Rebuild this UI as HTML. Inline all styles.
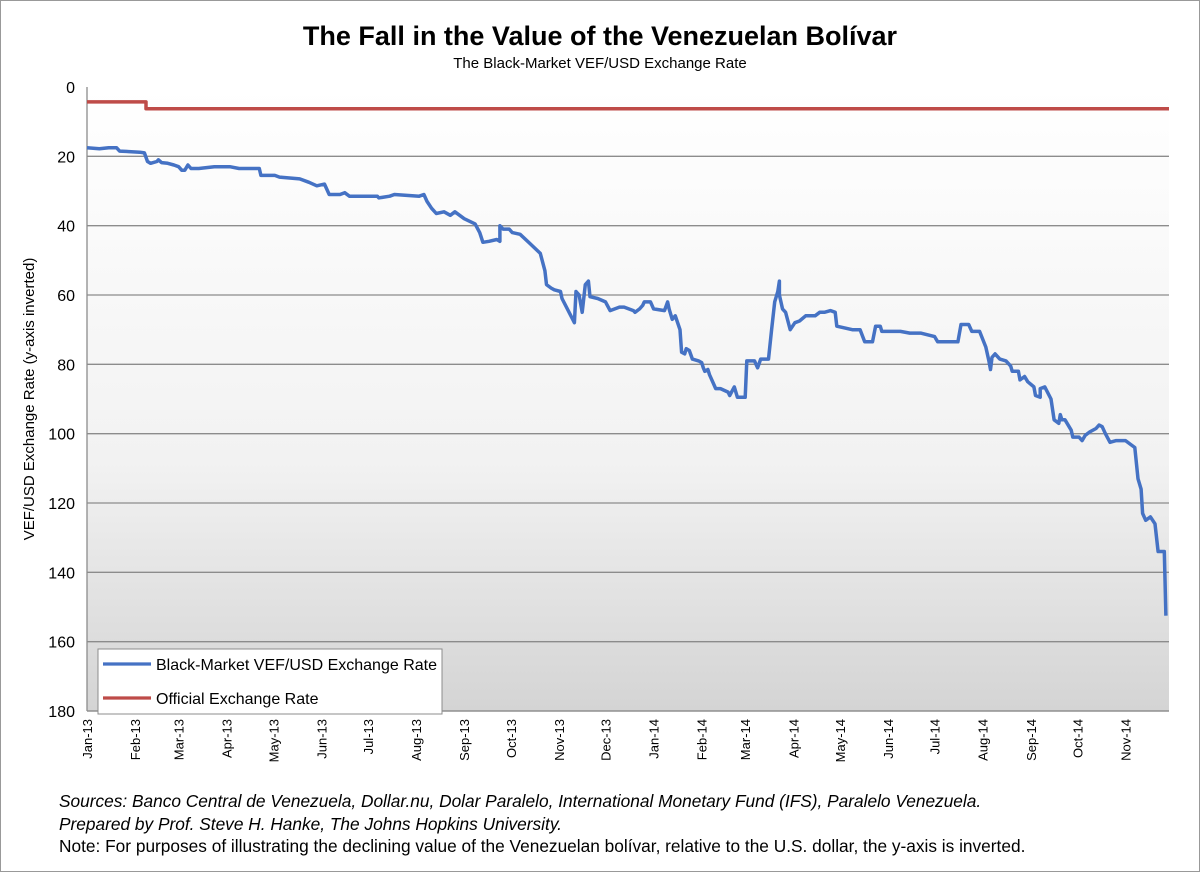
<!DOCTYPE html>
<html><head><meta charset="utf-8"><style>
body{margin:0;background:#fff;font-family:"Liberation Sans",Arial,sans-serif}
#wrap{position:relative;width:1198px;height:870px;border:1px solid #999;overflow:hidden}
.t{position:absolute;white-space:nowrap}
</style></head><body>
<div id="wrap">
<div class="t" style="left:0;width:1198px;text-align:center;top:20px;font-size:27px;font-weight:bold">The Fall in the Value of the Venezuelan Bolívar</div>
<div class="t" style="left:0;width:1198px;text-align:center;top:54px;font-size:15px">The Black-Market VEF/USD Exchange Rate</div>
<svg id="chart" width="1198" height="780" style="position:absolute;left:0;top:0">
<defs><linearGradient id="bg" x1="0" y1="0" x2="0" y2="1"><stop offset="0" stop-color="#ffffff"/><stop offset="0.6" stop-color="#f2f2f2"/><stop offset="1" stop-color="#d4d4d4"/></linearGradient></defs>
</svg>
<div class="t" style="left:58px;top:790px;font-size:17.3px;font-style:italic">Sources: Banco Central de Venezuela, Dollar.nu, Dolar Paralelo, International Monetary Fund (IFS), Paralelo Venezuela.</div>
<div class="t" style="left:58px;top:813px;font-size:17.3px;font-style:italic">Prepared by Prof. Steve H. Hanke, The Johns Hopkins University.</div>
<div class="t" style="left:58px;top:835px;font-size:17.3px">Note: For purposes of illustrating the declining value of the Venezuelan bolívar, relative to the U.S. dollar, the y-axis is inverted.</div>
</div>
<script>
const monthLabels=["Jan-13","Feb-13","Mar-13","Apr-13","May-13","Jun-13","Jul-13","Aug-13","Sep-13","Oct-13","Nov-13","Dec-13","Jan-14","Feb-14","Mar-14","Apr-14","May-14","Jun-14","Jul-14","Aug-14","Sep-14","Oct-14","Nov-14"];
const monthDays=[0,31,59,90,120,151,181,212,243,273,304,334,365,396,424,455,485,516,546,577,608,638,669];
const yTicks=[0,20,40,60,80,100,120,140,160,180];
const bmDays=[0,8,14,19,21,34,37,39,41,45,46,48,52,56,59,61,63,65,67,72,82,92,98,111,112,121,124,137,143,148,153,156,163,166,169,175,187,188,195,198,214,217,219,222,225,230,234,237,243,250,253,255,259,264,266,266,268,272,274,279,285,292,295,296,299,301,305,306,314,315,317,319,321,323,324,329,334,337,343,346,352,353,356,358,359,363,365,372,374,375,377,379,382,383,385,386,388,390,394,396,397,398,400,401,405,408,413,414,417,419,424,425,430,432,434,439,441,443,445,446,446,448,450,453,456,459,463,469,472,475,479,482,483,488,493,498,501,506,508,511,512,524,530,537,546,548,556,561,563,568,570,575,579,581,582,583,585,588,592,595,596,600,601,604,606,610,611,614,614,617,621,623,626,627,628,630,634,635,639,641,643,646,650,652,654,656,659,663,669,672,675,677,679,680,682,685,688,690,694,695];
const bmVals=[17.5,17.8,17.5,17.5,18.5,18.8,19,21.5,22,21.5,21,21.8,22,22.5,23,24,24,22.5,23.5,23.5,23,23,23.5,23.5,25.5,25.5,26,26.5,27.5,28.5,28,31,31,30.5,31.5,31.5,31.5,32,31.5,31,31.5,31,33,35,36.5,36,37,36,38,39.5,42,44.8,44.5,44,44.5,40,41,41,42,42.5,45,48,53,57,58,58.5,59,61,68,59,60,65,57,56,60.5,61,62,64.5,63.5,63.5,64.5,65,64,63,62,62,64,64.5,62,64,67,66,70,76.5,77,75.5,76,78.5,79,79.5,81,82,81.5,83,87,87,88,89,86.5,89.5,89.5,79,79,81,78.5,78.5,70,62,59,56,60,64,65,70,68,67.5,66,66,65,65,64.5,65,69,69.5,70,70,73.5,73.5,69,69,70.5,70.5,71,71,72,73.5,73.5,73.5,68.5,68.5,70.5,70.5,75,79,81.5,78,77,78.5,79,80.5,82,82,84.5,83.5,85,86.5,89,89.5,87,86.5,90,96,97,94.5,96,96,99,101,101,102,100.5,99.5,98.5,97.5,98,100,102.5,102,102,103,104,113,116,123,125,124,126,134,134,152.5];
const offDays=[0,38,38,697];
const offVals=[4.3,4.3,6.3,6.3];
const NS="http://www.w3.org/2000/svg";
const svg=document.getElementById('chart');
const L=86,R=1168,T=86,B=710,D0=0,D1=697;
const xs=d=>L+(d-D0)/(D1-D0)*(R-L);
const ys=v=>T+v/180*(B-T);
function mk(tag,attrs){const e=document.createElementNS(NS,tag);for(const k in attrs)e.setAttribute(k,attrs[k]);svg.appendChild(e);return e;}
let r=mk('rect',{x:L,y:T,width:R-L,height:B-T,fill:'url(#bg)'});


yTicks.forEach(v=>{
 if(v>0){const g=mk('line',{x1:L,x2:R,y1:ys(v),y2:ys(v),stroke:'#8c8c8c','stroke-width':1.3});
 
 }
 const t=mk('text',{x:L-12,y:ys(v)+6,'text-anchor':'end','font-size':16,'font-family':'Liberation Sans, sans-serif'});
 t.textContent=v;
 
 
});
let ax=mk('line',{x1:L,x2:L,y1:T,y2:B,stroke:'#8c8c8c','stroke-width':1.3});


let bx=mk('line',{x1:L,x2:R,y1:B,y2:B,stroke:'#8c8c8c','stroke-width':1.3});


monthLabels.forEach((m,i)=>{
 const x=xs(monthDays[i]);
 const t=mk('text',{x:0,y:0,'text-anchor':'end','font-size':13,'font-family':'Liberation Sans, sans-serif',transform:`translate(${x+5},${B+8}) rotate(-90)`});
 t.textContent=m;
 
 
});
function line(days,vals,color,name){
 const d=days.map((dd,i)=>(i?'L':'M')+xs(dd).toFixed(1)+','+ys(vals[i]).toFixed(1)).join('');
 const p=mk('path',{d:d,fill:'none',stroke:color,'stroke-width':3.5,'stroke-linejoin':'round'});
 
 
}
line(offDays,offVals,'#be4b48','official-rate-line');
line(bmDays,bmVals,'#4572c4','black-market-line');
let yt=mk('text',{x:0,y:0,'text-anchor':'middle','font-size':15,'font-family':'Liberation Sans, sans-serif',transform:'translate(33,398) rotate(-90)'});
yt.textContent='VEF/USD Exchange Rate (y-axis inverted)';


let lg=mk('rect',{x:97,y:648,width:344,height:65,fill:'#fff',stroke:'#8c8c8c','stroke-width':1});


[['Black-Market VEF/USD Exchange Rate','#4572c4',663],['Official Exchange Rate','#be4b48',697]].forEach(([n,c,y])=>{
 const l=mk('line',{x1:102,x2:150,y1:y,y2:y,stroke:c,'stroke-width':3.3});
 
 
 const t=mk('text',{x:155,y:y+6,'font-size':16,'font-family':'Liberation Sans, sans-serif'});
 t.textContent=n;
 
 
});
</script>
</body></html>
